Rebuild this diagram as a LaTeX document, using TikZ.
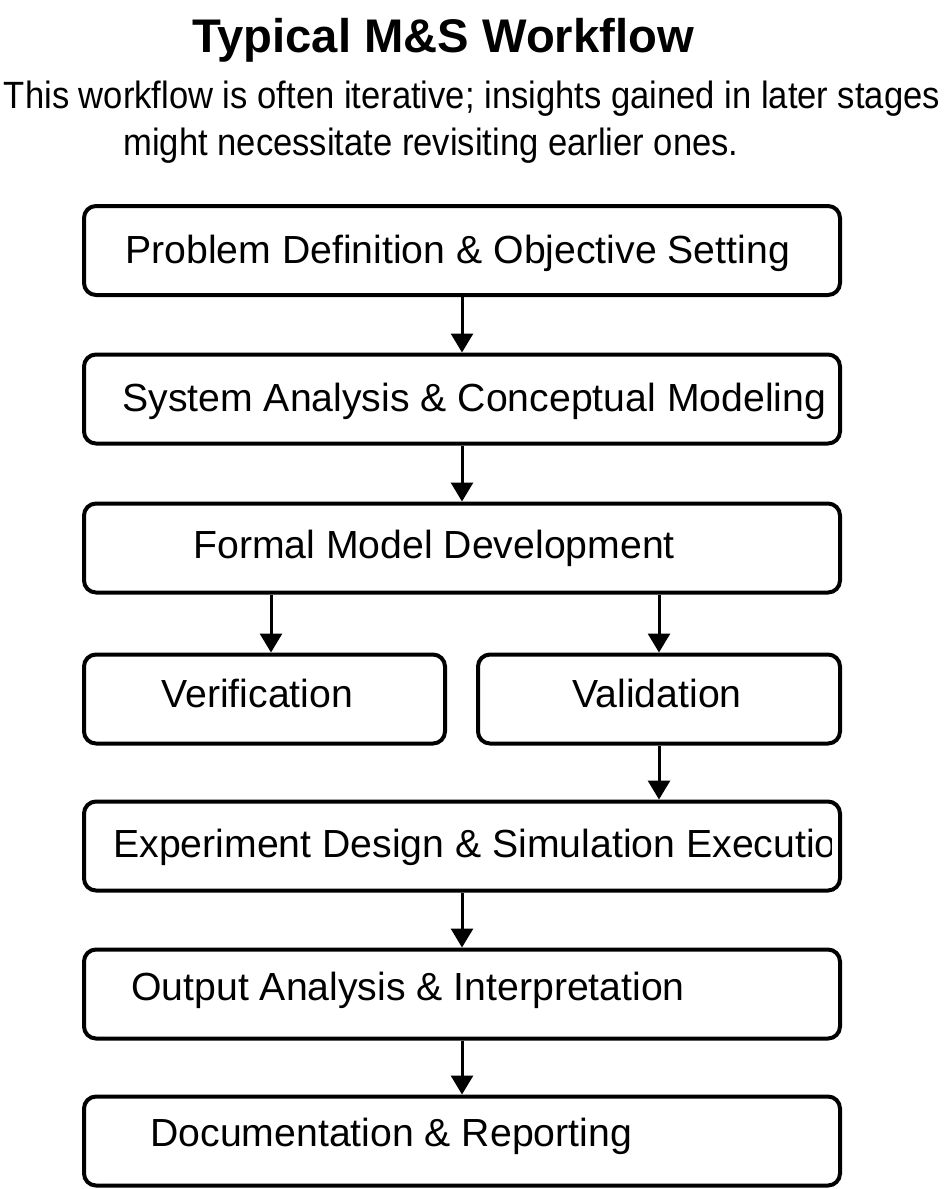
\documentclass[tikz,border=0pt]{standalone}
\usepackage{fontspec}
\setmainfont{Liberation Sans}
\usetikzlibrary{arrows.meta}
\begin{document}
\begin{tikzpicture}[x=0.5pt,y=-0.5pt,
    box/.style={draw,line width=2pt,rounded corners=6pt,minimum height=44.5pt,inner sep=0pt},
    lbl/.style={anchor=base west,inner sep=0pt,font=\fontsize{19.6}{24}\selectfont},
    note/.style={anchor=base,inner sep=0pt,xscale=0.91,font=\fontsize{19}{22}\selectfont},
    link/.style={line width=1.5pt,-{Triangle[length=9.5pt,width=11pt]}}]
            \useasboundingbox (0,0) rectangle (945,1189);
            % title
            \node[anchor=base,inner sep=0pt,font=\bfseries\fontsize{23.6}{28}\selectfont] (title) at (443,52) {Typical M\&S Workflow};
            \node[note] (sub1) at (472,108) {This workflow is often iterative; insights gained in later stages};
            \node[note] (sub2) at (431,155) {might necessitate revisiting earlier ones.};
            % boxes
            \node[box,minimum width=378pt] (prob) at (462,250.5) {};
            \node[box,minimum width=378pt] (sys) at (462,399) {};
            \node[box,minimum width=378pt] (formal) at (462,548) {};
            \node[box,minimum width=180.5pt] (verif) at (264.5,699) {};
            \node[box,minimum width=181pt] (valid) at (659,699) {};
            \node[box,minimum width=378pt] (exper) at (462,846) {};
            \node[box,minimum width=378pt] (output) at (462,994) {};
            \node[box,minimum width=378pt] (doc) at (462,1141) {};
            % labels
            \node[lbl] (probT) at (125,263) {Problem Definition \& Objective Setting};
            \node[lbl] (sysT) at (122,411) {System Analysis \& Conceptual Modeling};
            \node[lbl] (formalT) at (193,558) {Formal Model Development};
            \node[lbl] (verifT) at (161,707) {Verification};
            \node[lbl] (validT) at (572,707) {Validation};
            \begin{scope}
            \clip (100,805) rectangle (831,888);
            \node[lbl] (experT) at (113,857) {Experiment Design \& Simulation Execution};
            \end{scope}
            \node[lbl] (outputT) at (131,1000) {Output Analysis \& Interpretation};
            \node[lbl] (docT) at (150,1146) {Documentation \& Reporting};
            % arrows
            \draw[link] (prob.south) -- (sys.north);
            \draw[link] (sys.south) -- (formal.north);
            \draw[link] (formal.south -| verif.east) ++(-176,0) coordinate (fv) -- (fv |- verif.north);
            \draw[link] (formal.south -| valid.north) -- (valid.north);
            \draw[link] (valid.south) -- (valid.south |- exper.north);
            \draw[link] (exper.south) -- (output.north);
            \draw[link] (output.south) -- (doc.north);
\end{tikzpicture}
\end{document}
